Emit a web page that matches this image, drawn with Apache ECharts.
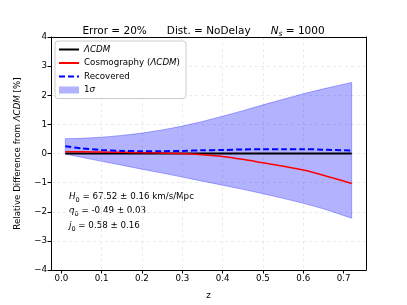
<!DOCTYPE html>
<html><head><meta charset="utf-8">
<script src="https://cdn.jsdelivr.net/npm/echarts@6/dist/echarts.min.js"></script>
<style>html,body{margin:0;padding:0;background:#fff}#c{width:407px;height:305px}</style>
</head><body><div id="c"></div>
<script>
var zValues = [0.01,0.05,0.1,0.15,0.2,0.25,0.3,0.35,0.4,0.45,0.5,0.55,0.6,0.65,0.72];
var sigmaUpper = [0.51,0.52,0.56,0.62,0.70,0.81,0.94,1.10,1.28,1.47,1.67,1.86,2.05,2.22,2.44];
var sigmaLower = [-0.02,-0.13,-0.27,-0.40,-0.54,-0.67,-0.81,-0.95,-1.09,-1.23,-1.38,-1.54,-1.71,-1.90,-2.22];
var recovered = [0.25,0.18,0.12,0.09,0.08,0.08,0.09,0.11,0.12,0.14,0.15,0.15,0.15,0.13,0.10];
var cosmography = [0.06,0.06,0.05,0.04,0.03,0.02,0.0,-0.04,-0.10,-0.20,-0.32,-0.44,-0.57,-0.75,-1.03];
var lcdm = [0,0,0,0,0,0,0,0,0,0,0,0,0,0,0];
var xTicks = [0,0.1,0.2,0.3,0.4,0.5,0.6,0.7];

function pairs(ys){ return zValues.map(function(z,i){return [z, ys[i]];}); }
var F = 'DejaVu Sans';
var fs = 8.7;
function minus(v){ return String(v).replace('-', '\u2212'); }
var hideSym = {color:'rgba(0,0,0,0)', borderColor:'rgba(0,0,0,0)', borderWidth:0};

var chart = echarts.init(document.getElementById('c'), null, {renderer:'canvas'});
chart.setOption({
  animation:false,
  textStyle:{fontFamily:F},
  title:{
    text:'Error = 20%      Dist. = NoDelay      {i|N}{s|s} = 1000',
    left:'center', top:20,
    textStyle:{fontFamily:F, fontSize:10.5, fontWeight:'normal', color:'#000',
      rich:{i:{fontFamily:F,fontSize:10.5,fontStyle:'italic',color:'#000'},
            s:{fontFamily:F,fontSize:7.5,fontStyle:'italic',color:'#000',verticalAlign:'bottom',padding:[5,0,0,0]}}}
  },
  grid:{left:51,right:41,top:37,bottom:34},
  legend:{
    orient:'vertical', left:55, top:41, padding:[4,6,4,3], itemGap:4.5,
    itemWidth:20, itemHeight:7,
    backgroundColor:'rgba(255,255,255,0.85)', borderColor:'#ccc', borderWidth:1, borderRadius:3,
    textStyle:{fontFamily:F,fontSize:fs,color:'#000',
      rich:{i:{fontFamily:F,fontSize:fs,fontStyle:'italic',color:'#000'},
            n:{fontFamily:F,fontSize:fs,color:'#000'}}},
    formatter:function(n){
      if(n==='LCDM') return '{i|\u039BCDM}';
      if(n==='Cosmo') return '{n|Cosmography (}{i|\u039BCDM}{n|)}';
      if(n==='Sigma') return '{n|1}{i|\u03C3}';
      return n;
    },
    data:[{name:'LCDM',itemStyle:hideSym},{name:'Cosmo',itemStyle:hideSym},{name:'Recovered',itemStyle:hideSym},
          {name:'Sigma',icon:'rect',itemStyle:{color:'rgba(0,0,255,0.3)'}}]
  },
  xAxis:[{
    type:'value', min:-0.0255, max:0.7555,
    name:'z', nameLocation:'middle', nameGap:21,
    nameTextStyle:{fontFamily:F,fontSize:fs,color:'#000'},
    axisLine:{show:true,onZero:false,lineStyle:{color:'#000',width:1}},
    axisTick:{show:true,length:3.5,lineStyle:{color:'#000'},customValues:xTicks},
    axisLabel:{fontFamily:F,fontSize:fs,color:'#000',margin:4,customValues:xTicks,
      formatter:function(v){return v.toFixed(1);}},
    splitLine:{show:true,showMinLine:false,showMaxLine:false,lineStyle:{color:'#e6e6e6',type:[3,3],width:0.8}}
  },{
    type:'value', position:'top', min:-0.0255, max:0.7555, z:5,
    axisLine:{show:true,onZero:false,lineStyle:{color:'#000',width:1}},
    axisTick:{show:false}, axisLabel:{show:false}, splitLine:{show:false}
  }],
  yAxis:[{
    type:'value', min:-4, max:4, interval:1,
    name:'Relative Difference from {i|\u039BCDM} [%]', nameLocation:'middle', nameGap:29, nameRotate:90,
    nameTextStyle:{fontFamily:F,fontSize:fs,color:'#000',
      rich:{i:{fontFamily:F,fontSize:fs,fontStyle:'italic',color:'#000'}}},
    axisLine:{show:true,onZero:false,lineStyle:{color:'#000',width:1}},
    axisTick:{show:true,length:3.5,lineStyle:{color:'#000'}},
    axisLabel:{fontFamily:F,fontSize:fs,color:'#000',margin:4,formatter:function(v){return minus(v);}},
    splitLine:{show:true,showMinLine:false,showMaxLine:false,lineStyle:{color:'#e6e6e6',type:[3,3],width:0.8}}
  },{
    type:'value', position:'right', min:-4, max:4, interval:1, z:5,
    axisLine:{show:true,onZero:false,lineStyle:{color:'#000',width:1}},
    axisTick:{show:false}, axisLabel:{show:false}, splitLine:{show:false}
  }],
  series:[
    {name:'Sigma', type:'custom', z:1, data:[[0,0]],
     renderItem:function(params, api){
       var pts=[];
       for(var i=0;i<zValues.length;i++) pts.push(api.coord([zValues[i], sigmaUpper[i]]));
       for(var j=zValues.length-1;j>=0;j--) pts.push(api.coord([zValues[j], sigmaLower[j]]));
       return {type:'polygon', shape:{points:pts, smooth:0},
         style:{fill:'rgba(0,0,255,0.3)', stroke:'rgba(0,0,255,0.3)', lineWidth:1}};
     },
     itemStyle:{color:'rgba(0,0,255,0.3)'}
    },
    {name:'LCDM', type:'line', z:3, data:pairs(lcdm), symbol:'none', showSymbol:false,
     lineStyle:{color:'#000',width:2}, itemStyle:{color:'#000'}},
    {name:'Cosmo', type:'line', z:4, data:pairs(cosmography), symbol:'none', showSymbol:false, smooth:0.3,
     lineStyle:{color:'#ff0000',width:1.5}, itemStyle:{color:'#ff0000'}},
    {name:'Recovered', type:'line', z:5, data:pairs(recovered), symbol:'none', showSymbol:false, smooth:0.3,
     lineStyle:{color:'#0000ff',width:2,type:[6,3]}, itemStyle:{color:'#0000ff'}}
  ],
  graphic:[
    {type:'text', left:69, top:189, style:{
      text:'{i|H}{s|0} = 67.52 \u00B1 0.16 km/s/Mpc\n{i|q}{s|0} = -0.49 \u00B1 0.03\n{i|j}{s|0} = 0.58 \u00B1 0.16',
      fontFamily:F, fontSize:fs, fill:'#000', lineHeight:14.5,
      rich:{i:{fontFamily:F,fontSize:fs,fontStyle:'italic',fill:'#000',lineHeight:14.5},
            s:{fontFamily:F,fontSize:6.5,fill:'#000',verticalAlign:'bottom',padding:[2,0,0,0],lineHeight:14.5}}
    }}
  ]
});
</script></body></html>
